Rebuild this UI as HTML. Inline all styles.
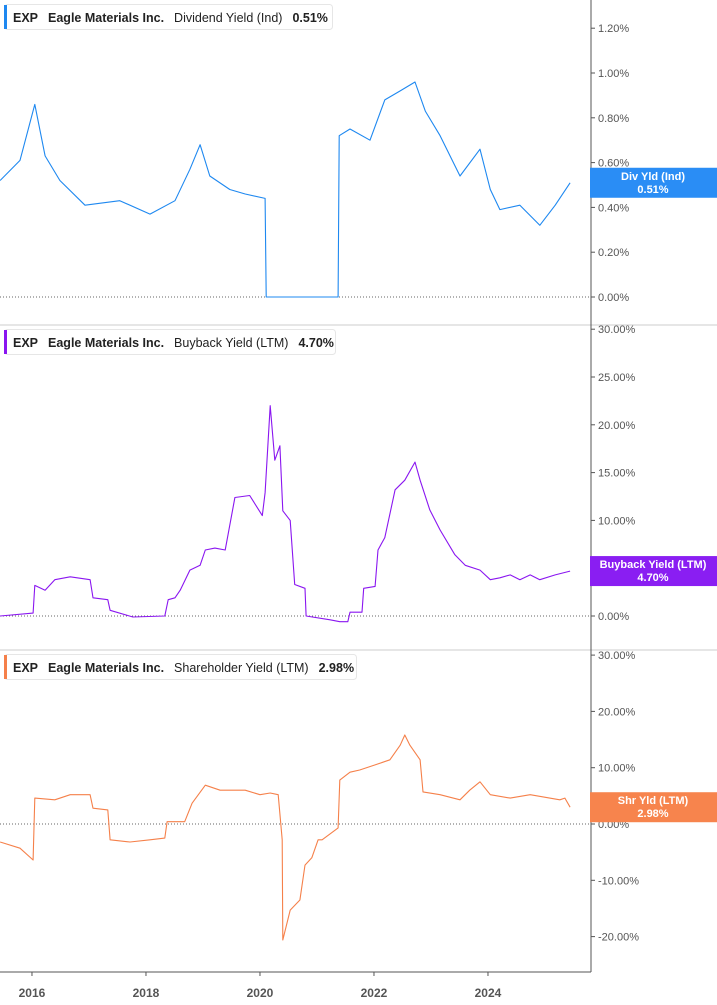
<!DOCTYPE html>
<html><head><meta charset="utf-8">
<style>
body{margin:0;background:#fff;font-family:"Liberation Sans",sans-serif;}
#c{position:relative;width:717px;height:1005px;overflow:hidden;}
svg text{font-family:"Liberation Sans",sans-serif;}
</style></head>
<body>
<div id="c">
<svg id="s" width="717" height="1005"></svg>
</div>
<script>
const divYears=[2015.44,2015.79,2016.05,2016.23,2016.49,2016.93,2017.54,2018.07,2018.51,2018.77,2018.95,2019.12,2019.47,2019.74,2020.09,2020.11,2021.37,2021.39,2021.58,2021.93,2022.19,2022.46,2022.72,2022.90,2023.16,2023.51,2023.86,2024.04,2024.21,2024.56,2024.91,2025.18,2025.44];
const divValues=[0.52,0.61,0.86,0.63,0.52,0.41,0.43,0.37,0.43,0.57,0.68,0.54,0.48,0.46,0.44,0,0,0.72,0.75,0.70,0.88,0.92,0.96,0.83,0.72,0.54,0.66,0.48,0.39,0.41,0.32,0.41,0.51];
const bbYears=[2015.44,2016.02,2016.05,2016.23,2016.40,2016.67,2017.02,2017.07,2017.33,2017.37,2017.77,2018.33,2018.39,2018.51,2018.60,2018.77,2018.95,2019.04,2019.21,2019.39,2019.56,2019.82,2020.04,2020.09,2020.18,2020.26,2020.35,2020.40,2020.53,2020.61,2020.79,2020.81,2021.23,2021.40,2021.54,2021.58,2021.79,2021.82,2022.02,2022.07,2022.19,2022.37,2022.54,2022.72,2022.81,2022.98,2023.16,2023.42,2023.60,2023.86,2024.04,2024.21,2024.39,2024.56,2024.74,2024.91,2025.18,2025.44];
const bbValues=[0,0.3,3.2,2.7,3.8,4.1,3.8,1.9,1.7,0.6,-0.1,0,1.7,1.9,2.7,4.8,5.3,6.9,7.1,6.9,12.4,12.6,10.5,12.9,22.0,16.3,17.8,11.0,10.0,3.3,2.9,0,-0.4,-0.6,-0.6,0.4,0.4,2.9,3.1,6.9,8.2,13.2,14.2,16.1,14.2,11.1,9.0,6.4,5.3,4.8,3.8,4.0,4.3,3.8,4.3,3.8,4.3,4.7];
const shYears=[2015.44,2015.79,2016.02,2016.05,2016.40,2016.67,2017.02,2017.07,2017.33,2017.37,2017.72,2018.07,2018.33,2018.37,2018.68,2018.81,2019.04,2019.30,2019.74,2020.00,2020.18,2020.32,2020.39,2020.40,2020.53,2020.70,2020.79,2020.91,2021.02,2021.09,2021.37,2021.40,2021.58,2021.75,2022.02,2022.28,2022.46,2022.54,2022.63,2022.81,2022.86,2023.16,2023.51,2023.68,2023.86,2024.04,2024.39,2024.74,2025.26,2025.35,2025.44];
const shValues=[-3.2,-4.3,-6.4,4.6,4.3,5.2,5.2,2.8,2.5,-2.8,-3.2,-2.8,-2.5,0.4,0.4,3.7,6.9,6.0,6.0,5.2,5.5,5.2,-2.8,-20.6,-15.3,-13.5,-7.3,-6.0,-2.8,-2.8,-0.7,7.8,9.2,9.6,10.5,11.4,14.0,15.8,14.0,11.4,5.7,5.2,4.3,6.0,7.5,5.2,4.6,5.2,4.3,4.6,2.98];
const xTicks=[2016,2018,2020,2022,2024];
const divTicks=[0,0.2,0.4,0.6,0.8,1.0,1.2];
const bbTicks=[0,5,10,15,20,25,30];
const shTicks=[-20,-10,0,10,20,30];

const NS="http://www.w3.org/2000/svg";
const svg=document.getElementById('s');
function mk(tag,attrs,parent){const e=document.createElementNS(NS,tag);for(const k in attrs)e.setAttribute(k,attrs[k]);(parent||svg).appendChild(e);return e;}
const xs=y=>(y-2015.439)*57;
const AX=591;

function panel(o){
  const g=mk('g',{});
  
  
  const ys=v=>o.zeroY-(v-0)*o.ppu;
  // ticks
  o.ticks.forEach(t=>{
    const y=ys(t);
    const tk=mk('line',{x1:AX,x2:AX+4,y1:y,y2:y,stroke:'#555','stroke-width':1},g);
    
    
    const tx=mk('text',{x:AX+7,y:y+4,'font-size':11,fill:'#555'},g);
    
    
    tx.textContent=t.toFixed(2)+'%';
  });
  const z=mk('line',{x1:0,x2:AX,y1:o.zeroY,y2:o.zeroY,stroke:'#666','stroke-width':1,'stroke-dasharray':'1,2'},g);
  
  
  let d='';
  o.years.forEach((yr,i)=>{d+=(i?'L':'M')+xs(yr).toFixed(1)+','+ys(o.values[i]).toFixed(1);});
  const p=mk('path',{d:d,fill:'none',stroke:o.color,'stroke-width':1.1,'stroke-linejoin':'round'},g);
  
  
  // legend
  const lg=mk('g',{},g);
  
  
  mk('rect',{x:4.5,y:o.top+4.5,width:o.lw,height:25,rx:3,fill:'#fff',stroke:'#e6e6e6'},lg);
  mk('rect',{x:4,y:o.top+5,width:3,height:24,fill:o.color},lg);
  const t=mk('text',{x:13,y:o.top+22,'font-size':12.5,fill:'#222','font-weight':'bold'},lg);
  t.innerHTML='EXP<tspan dx="10">Eagle Materials Inc.</tspan><tspan dx="10" font-weight="normal">'+o.label+'</tspan><tspan dx="10">'+o.last+'</tspan>';
  // badge
  const by=ys(o.values[o.values.length-1]);
  const b=mk('g',{},g);
  
  
  mk('rect',{x:AX-1,y:by-15,width:130,height:30,fill:o.badge},b);
  const bt=mk('text',{x:653,y:by-3,'font-size':11,fill:'#fff','font-weight':'bold','text-anchor':'middle'},b);
  bt.textContent=o.badgeLabel;
  const bv=mk('text',{x:653,y:by+10,'font-size':11,fill:'#fff','font-weight':'bold','text-anchor':'middle'},b);
  bv.textContent=o.last;
}
// separators and axes
[325,650].forEach(y=>{const l=mk('line',{x1:0,x2:717,y1:y,y2:y,stroke:'#ccc'});

});
const al=mk('line',{x1:AX,x2:AX,y1:0,y2:972,stroke:'#555'});


const xl=mk('line',{x1:0,x2:AX,y1:972,y2:972,stroke:'#555'});


xTicks.forEach(yr=>{
  const tk=mk('line',{x1:xs(yr),x2:xs(yr),y1:972,y2:976,stroke:'#555'});
  
  
  const t=mk('text',{x:xs(yr),y:997,'font-size':12,fill:'#555','font-weight':'bold','text-anchor':'middle'});
  
  
  t.textContent=yr;
});
panel({name:'dividend-yield',top:0,zeroY:297,ppu:224,ticks:divTicks,years:divYears,values:divValues,color:'#1e88f0',badge:'#2a8df5',label:'Dividend Yield (Ind)',last:'0.51%',badgeLabel:'Div Yld (Ind)',lw:328});
panel({name:'buyback-yield',top:325,zeroY:616,ppu:9.56,ticks:bbTicks,years:bbYears,values:bbValues,color:'#8a16f0',badge:'#8a1ef2',label:'Buyback Yield (LTM)',last:'4.70%',badgeLabel:'Buyback Yield (LTM)',lw:331});
panel({name:'shareholder-yield',top:650,zeroY:824,ppu:5.63,ticks:shTicks,years:shYears,values:shValues,color:'#f5804a',badge:'#f7844d',label:'Shareholder Yield (LTM)',last:'2.98%',badgeLabel:'Shr Yld (LTM)',lw:352});
</script>
</body></html>
